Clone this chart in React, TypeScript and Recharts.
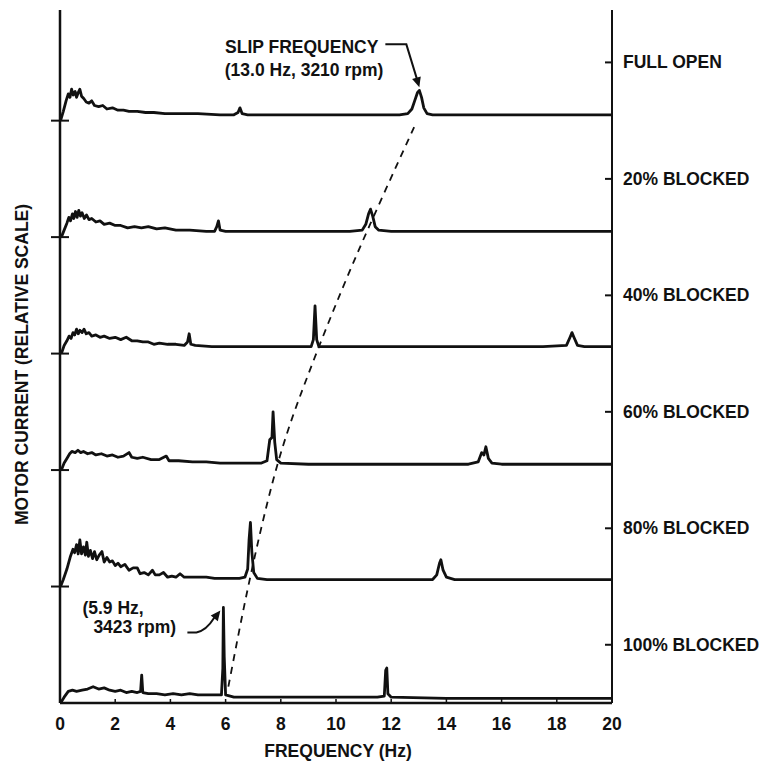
import { LineChart, Line, XAxis, YAxis, ReferenceDot } from "recharts";

// frequency axis
const freqTicks = [0, 2, 4, 6, 8, 10, 12, 14, 16, 18, 20];
const topTicks = [2, 4, 6, 8, 10, 12, 14, 16, 18];

// stacked panels, bottom to top (each panel is 100 units tall)
const panelLabels = ["100% BLOCKED", "80% BLOCKED", "60% BLOCKED", "40% BLOCKED", "20% BLOCKED", "FULL OPEN"];
const labelTicks = [50, 150, 250, 350, 450, 550];
const baseTicks = [100, 200, 300, 400, 500];

// [frequency Hz, amplitude above panel baseline]
const fullOpen: [number, number][] = [
  [0.02, 0], [0.12, 8], [0.22, 17], [0.3, 23], [0.36, 20], [0.42, 27], [0.48, 22], [0.55, 25], [0.6, 20],
  [0.66, 24], [0.72, 27], [0.78, 21], [0.86, 19], [0.95, 16], [1.05, 15], [1.15, 17], [1.25, 13], [1.4, 12],
  [1.55, 13], [1.7, 10], [1.9, 11], [2.1, 9], [2.3, 9], [2.5, 8], [2.8, 8], [3.1, 7], [3.4, 7], [3.8, 6],
  [4.3, 6], [5.0, 6], [5.8, 5], [6.3, 5], [6.45, 7], [6.52, 11], [6.6, 6], [6.8, 5], [8.0, 5], [9.5, 5],
  [11, 5], [12.3, 5], [12.6, 6], [12.75, 10], [12.85, 17], [12.95, 24], [13.02, 26], [13.1, 20], [13.18, 11],
  [13.3, 6], [13.5, 5], [15, 5], [17, 5], [20, 5],
];
const blocked20: [number, number][] = [
  [0.05, 0], [0.15, 6], [0.25, 12], [0.32, 17], [0.38, 14], [0.45, 20], [0.5, 16], [0.56, 22], [0.62, 17],
  [0.68, 23], [0.74, 18], [0.8, 21], [0.88, 16], [0.96, 19], [1.05, 15], [1.15, 16], [1.3, 13], [1.45, 14],
  [1.6, 11], [1.8, 12], [2.0, 10], [2.2, 10], [2.45, 8], [2.7, 9], [2.95, 8], [3.2, 9], [3.5, 7], [3.8, 8],
  [4.2, 6], [4.7, 6], [5.3, 5], [5.6, 5], [5.68, 9], [5.74, 14], [5.8, 6], [6.0, 5], [7.5, 5], [9, 5],
  [10.5, 5], [10.95, 6], [11.08, 11], [11.18, 20], [11.25, 24], [11.33, 18], [11.42, 9], [11.55, 6], [12, 5],
  [15, 5], [18, 5], [20, 5],
];
const blocked40: [number, number][] = [
  [0.05, 0], [0.15, 7], [0.25, 11], [0.33, 15], [0.4, 13], [0.47, 18], [0.53, 16], [0.6, 21], [0.66, 17],
  [0.72, 20], [0.8, 18], [0.87, 21], [0.95, 17], [1.05, 18], [1.15, 15], [1.3, 16], [1.45, 14], [1.6, 15],
  [1.8, 13], [2.0, 14], [2.2, 12], [2.4, 14], [2.6, 11], [2.8, 11], [3.0, 10], [3.2, 10], [3.4, 8], [3.6, 9],
  [3.9, 8], [4.2, 8], [4.5, 7], [4.62, 10], [4.68, 17], [4.74, 8], [4.9, 7], [5.5, 6], [6.5, 6], [7.5, 6],
  [8.5, 6], [9.1, 6], [9.18, 12], [9.24, 41], [9.3, 12], [9.38, 6], [10, 6], [12, 6], [14, 6], [16, 6],
  [17.5, 6], [18.35, 7], [18.48, 14], [18.55, 18], [18.62, 14], [18.75, 7], [19, 6], [20, 6],
];
const blocked60: [number, number][] = [
  [0.05, 0], [0.15, 6], [0.25, 10], [0.35, 14], [0.43, 16], [0.55, 15], [0.65, 17], [0.75, 15], [0.85, 16],
  [1.0, 14], [1.15, 15], [1.3, 13], [1.5, 14], [1.7, 12], [1.9, 13], [2.1, 11], [2.3, 12], [2.5, 15], [2.6, 11],
  [2.8, 10], [3.0, 11], [3.3, 9], [3.6, 9], [3.85, 12], [3.95, 8], [4.3, 8], [4.8, 7], [5.3, 7], [5.8, 6],
  [6.3, 6], [6.8, 6], [7.3, 6], [7.5, 8], [7.6, 26], [7.68, 28], [7.72, 50], [7.78, 24], [7.85, 9], [8.0, 6],
  [9, 5], [11, 5], [13, 5], [14.8, 5], [15.15, 7], [15.28, 15], [15.36, 13], [15.43, 20], [15.52, 10],
  [15.65, 6], [16, 5], [18, 5], [20, 5],
];
const blocked80: [number, number][] = [
  [0.02, 0], [0.12, 6], [0.25, 15], [0.38, 26], [0.47, 32], [0.53, 29], [0.6, 36], [0.66, 28], [0.72, 40],
  [0.78, 28], [0.85, 34], [0.92, 27], [0.97, 38], [1.03, 26], [1.1, 31], [1.18, 24], [1.25, 30], [1.33, 23],
  [1.42, 27], [1.52, 30], [1.6, 21], [1.7, 25], [1.8, 21], [1.9, 22], [2.0, 18], [2.1, 20], [2.2, 17],
  [2.35, 19], [2.5, 14], [2.65, 16], [2.8, 16], [2.9, 11], [3.05, 12], [3.2, 10], [3.35, 14], [3.45, 10],
  [3.6, 10], [3.75, 12], [3.9, 8], [4.05, 9], [4.2, 8], [4.35, 11], [4.5, 8], [4.7, 8], [5.0, 8], [5.3, 8],
  [5.6, 7], [5.9, 7], [6.2, 7], [6.5, 7], [6.7, 8], [6.8, 15], [6.85, 40], [6.9, 55], [6.95, 30], [7.02, 12],
  [7.15, 7], [7.5, 6], [9, 6], [11, 6], [12.5, 6], [13.5, 6], [13.65, 10], [13.75, 20], [13.8, 23],
  [13.88, 14], [14.0, 8], [14.3, 6], [16, 6], [18, 6], [20, 6],
];
const blocked100: [number, number][] = [
  [0.02, 0], [0.15, 5], [0.3, 10], [0.45, 11], [0.6, 10], [0.8, 11], [1.0, 12], [1.2, 14], [1.4, 12],
  [1.6, 13], [1.8, 11], [2.0, 10], [2.2, 11], [2.4, 9], [2.6, 10], [2.8, 9], [2.92, 10], [2.96, 24], [3.0, 9],
  [3.2, 8], [3.5, 8], [3.8, 7], [4.1, 8], [4.4, 7], [4.7, 8], [5.0, 7], [5.3, 7], [5.6, 7], [5.85, 7],
  [5.9, 30], [5.92, 82], [5.95, 40], [6.0, 7], [6.3, 5], [7, 5], [8.5, 5], [10, 5], [11.5, 5], [11.75, 6],
  [11.8, 28], [11.84, 30], [11.88, 8], [12.0, 5], [14, 4], [16, 4], [18, 4], [20, 4],
];

// dashed slip-frequency trend, absolute units
const slipCurve: [number, number][] = [
  [6.1, 14], [6.82, 100], [7.72, 191], [9.17, 293], [9.5, 313], [10.9, 393], [11.35, 417], [12.86, 496],
];

const traces = [blocked100, blocked80, blocked60, blocked40, blocked20, fullOpen];

const INK = "#111";
const FONT = '"Liberation Sans", Arial, Helvetica, sans-serif';

function arrowHead(x: number, y: number, dx: number, dy: number, len = 10, half = 4.5) {
  const l = Math.hypot(dx, dy);
  const ux = dx / l;
  const uy = dy / l;
  const bx = x - ux * len;
  const by = y - uy * len;
  return `M ${x} ${y} L ${bx - uy * half} ${by + ux * half} L ${bx + uy * half} ${by - ux * half} Z`;
}

const textStyle = { fontFamily: FONT, fontSize: 17.5, fontWeight: 700, fill: INK } as const;

function SlipNote({ cx, cy }: any) {
  return (
    <g>
      <text x={cx - 41} y={cy - 37} textAnchor="end" style={textStyle}>SLIP FREQUENCY</text>
      <text x={cx - 36} y={cy - 14} textAnchor="end" style={textStyle}>(13.0 Hz, 3210 rpm)</text>
      <path d={`M ${cx - 34} ${cy - 46} L ${cx - 13} ${cy - 46} L ${cx - 2} ${cy - 10}`} stroke={INK} strokeWidth={2} fill="none" />
      <path d={arrowHead(cx, cy - 3, 11, 36)} fill={INK} />
    </g>
  );
}

function LockedNote({ cx, cy }: any) {
  return (
    <g>
      <text x={cx - 141} y={cy + 7} style={textStyle}>(5.9 Hz,</text>
      <text x={cx - 130} y={cy + 26} style={textStyle}>3423 rpm)</text>
      <path d={`M ${cx - 36} ${cy + 25} L ${cx - 27} ${cy + 25} Q ${cx - 17} ${cy + 23} ${cx - 9} ${cy + 10}`} stroke={INK} strokeWidth={2} fill="none" />
      <path d={arrowHead(cx - 3, cy + 3, 7, -9)} fill={INK} />
    </g>
  );
}

const BottomTick = ({ x, y, payload }: any) => (
  <g>
    <line x1={x} x2={x} y1={y} y2={y - 4} stroke={INK} strokeWidth={1.5} />
    <text x={x} y={y + 27} textAnchor="middle" style={textStyle}>{payload.value}</text>
  </g>
);

const TopTick = ({ x, y }: any) => <line x1={x} x2={x} y1={y} y2={y + 5} stroke={INK} strokeWidth={1.5} />;

const LeftTick = ({ x, y }: any) => <line x1={x - 9} x2={x + 9} y1={y} y2={y} stroke={INK} strokeWidth={2} />;

const RightTick = ({ x, y, payload }: any) => (
  <g>
    <line x1={x - 7} x2={x} y1={y} y2={y} stroke={INK} strokeWidth={2} />
    <text x={x + 11} y={y + 6} style={textStyle}>{panelLabels[labelTicks.indexOf(payload.value)]}</text>
  </g>
);

export default function App() {
  const series = traces.map((t, i) => t.map(([f, a]) => ({ f, v: a + i * 100 })));
  const slip = slipCurve.map(([f, v]) => ({ f, v }));
  return (
    <div style={{ position: "absolute", left: 0, top: 0, width: 767, height: 761, background: "#fff" }}>
      <LineChart width={767} height={761} margin={{ top: 10, right: 0, bottom: 0, left: 0 }}>
        <XAxis
          dataKey="f"
          type="number"
          domain={[0, 20]}
          ticks={freqTicks}
          allowDataOverflow
          height={58}
          tickSize={0}
          tickMargin={0}
          tickLine={false}
          axisLine={{ stroke: INK, strokeWidth: 2.5 }}
          tick={<BottomTick />}
          label={{
            content: ({ viewBox }: any) => (
              <text x={viewBox.x + viewBox.width / 2 + 2} y={viewBox.y + 54} textAnchor="middle" style={textStyle}>
                FREQUENCY (Hz)
              </text>
            ),
          }}
        />
        <XAxis
          xAxisId="top"
          orientation="top"
          dataKey="f"
          type="number"
          domain={[0, 20]}
          ticks={topTicks}
          allowDataOverflow
          height={0}
          tickSize={0}
          tickMargin={0}
          tickLine={false}
          axisLine={{ stroke: INK, strokeWidth: 2 }}
          tick={<TopTick />}
        />
        <YAxis
          type="number"
          domain={[0, 595]}
          ticks={baseTicks}
          allowDataOverflow
          width={60}
          tickSize={0}
          tickMargin={0}
          tickLine={false}
          axisLine={{ stroke: INK, strokeWidth: 2.5 }}
          tick={<LeftTick />}
          label={{
            content: ({ viewBox }: any) => {
              const cx = viewBox.x + 28;
              const cy = viewBox.y + viewBox.height / 2 + 8;
              return (
                <text x={cx} y={cy} textAnchor="middle" transform={`rotate(-90, ${cx}, ${cy})`} style={textStyle}>
                  MOTOR CURRENT (RELATIVE SCALE)
                </text>
              );
            },
          }}
        />
        <YAxis
          yAxisId="right"
          orientation="right"
          type="number"
          domain={[0, 595]}
          ticks={labelTicks}
          allowDataOverflow
          width={155}
          tickSize={0}
          tickMargin={0}
          tickLine={false}
          axisLine={{ stroke: INK, strokeWidth: 2 }}
          tick={<RightTick />}
        />
        {series.map((d, i) => (
          <Line
            key={panelLabels[i]}
            data={d}
            dataKey="v"
            type="linear"
            stroke={INK}
            strokeWidth={2.8}
            strokeLinejoin="round"
            dot={false}
            activeDot={false}
            isAnimationActive={false}
          />
        ))}
        <Line
          data={slip}
          dataKey="v"
          type="monotone"
          stroke={INK}
          strokeWidth={1.8}
          strokeDasharray="7 6"
          dot={false}
          activeDot={false}
          isAnimationActive={false}
        />
        <ReferenceDot x={13.02} y={526} r={0} shape={(p: any) => <SlipNote {...p} />} />
        <ReferenceDot x={5.92} y={82} r={0} shape={(p: any) => <LockedNote {...p} />} />
      </LineChart>
    </div>
  );
}
